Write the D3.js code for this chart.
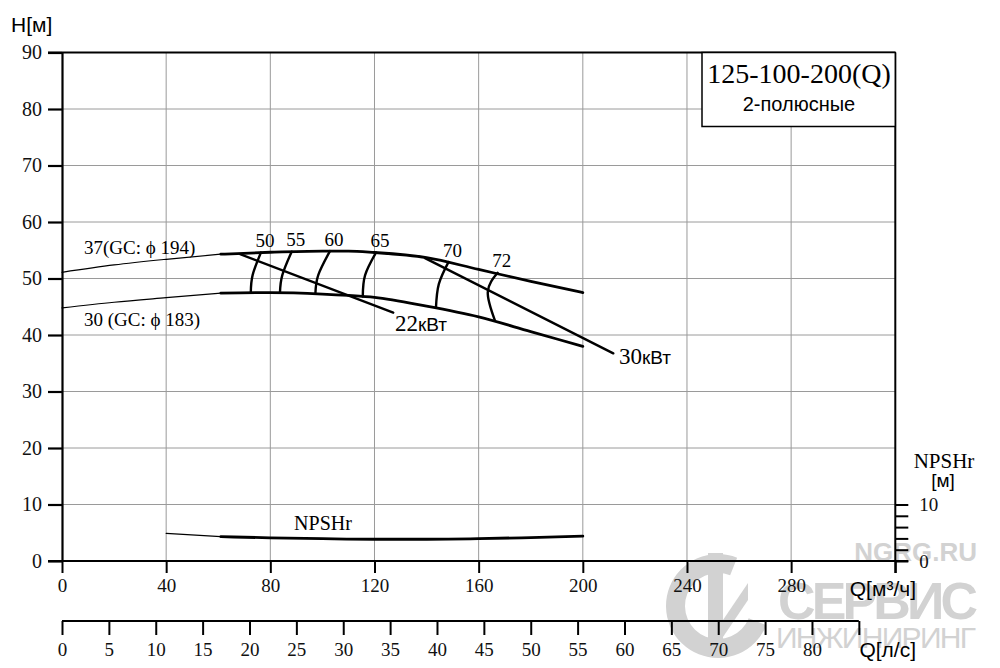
<!DOCTYPE html>
<html>
<head>
<meta charset="utf-8">
<script src="https://cdn.jsdelivr.net/npm/d3@7/dist/d3.min.js"></script>
<style>
  body { margin: 0; background: #fff; }
  .serif { font-family: "Liberation Serif", "Times New Roman", "DejaVu Serif", serif; }
  .sans { font-family: "Liberation Sans", Arial, sans-serif; }
</style>
</head>
<body>
<script>
// axis ticks
var qTicks = [0, 40, 80, 120, 160, 200, 240, 280];
var hTicks = [0, 10, 20, 30, 40, 50, 60, 70, 80, 90];
var lsTicks = [0, 5, 10, 15, 20, 25, 30, 35, 40, 45, 50, 55, 60, 65, 70, 75, 80];
var npshTicks = [0, 2, 4, 6, 8, 10];

// H-Q curves, low-flow part (thin) and working part (thick)
var qLow = [0, 20, 40, 61];
var h37Low = [51.1, 52.4, 53.4, 54.3];
var h30Low = [44.8, 45.8, 46.6, 47.4];
var qWork = [61, 80, 100, 110, 120, 140, 160, 180, 200];
var h37Work = [54.3, 54.65, 54.85, 54.85, 54.6, 53.7, 51.6, 49.5, 47.5];
var h30Work = [47.4, 47.5, 47.25, 47.0, 46.65, 45.1, 43.2, 40.6, 38.0];

// efficiency isolines (top, middle, bottom)
var effValues = [50, 55, 60, 65, 70, 72];
var effQ = [[76.4, 73.2, 72.5], [88.2, 84.6, 83.7], [102.9, 98.4, 97.3],
            [120.6, 116.4, 115.5], [148.4, 144.7, 143.6], [167.3, 163.5, 166.3]];
var effH = [[54.6, 50.6, 47.45], [54.75, 50.6, 47.5], [54.85, 50.6, 47.3],
            [54.6, 50.6, 46.8], [52.9, 49.0, 44.8], [51.0, 47.6, 42.5]];

// motor power lines
var powerNames = ["22", "30"];
var powerQ = [[68.4, 127.2], [139.4, 211.7]];
var powerH = [[54.3, 43.95], [53.6, 36.75]];

// NPSHr
var npshQ = [40, 61, 80, 100, 120, 140, 160, 180, 200];
var npshVals = [4.9, 4.3, 4.1, 3.95, 3.85, 3.85, 3.95, 4.15, 4.4];

var width = 1000, height = 668;

var x = d3.scaleLinear().domain([0, 320]).range([62, 895.3]);
var y = d3.scaleLinear().domain([0, 90]).range([561, 52.5]);
var yN = d3.scaleLinear().domain([0, 10]).range([561, 504.5]);
var xL = d3.scaleLinear().domain([0, 320 / 3.6]).range([62, 895.3]);

var svg = d3.select("body").append("svg")
    .attr("width", width)
    .attr("height", height);

// watermark
var wm = svg.append("g").attr("fill", "#d2d2d2").attr("stroke", "none");
var arc = d3.arc().innerRadius(33).outerRadius(52)
    .startAngle(Math.PI * 0.62).endAngle(Math.PI * 2.12);
wm.append("path").attr("d", arc).attr("transform", "translate(718,606)");
wm.append("rect").attr("x", 708).attr("y", 553).attr("width", 15).attr("height", 88);
wm.append("path").attr("d", "M723,620 L748,583 L748,600 L723,637 Z");
wm.append("text").attr("class", "sans").attr("x", 977).attr("y", 561)
    .attr("text-anchor", "end").attr("font-size", 26).attr("font-weight", "bold")
    .text("NGRG.RU");
wm.append("text").attr("class", "sans").attr("x", 978).attr("y", 619)
    .attr("text-anchor", "end").attr("font-size", 52).attr("font-weight", "bold")
    .attr("textLength", 200).text("СЕРВИС");
wm.append("text").attr("class", "sans").attr("x", 976).attr("y", 648)
    .attr("text-anchor", "end").attr("font-size", 30)
    .attr("textLength", 200).text("ИНЖИНИРИНГ");

// grid
svg.append("g")
  .selectAll("line").data(qTicks.filter(function(d){ return d > 0; }))
  .enter().append("line")
    .attr("x1", x).attr("x2", x)
    .attr("y1", y(90)).attr("y2", y(0))
    .attr("stroke", "#9a9a9a").attr("stroke-width", 1);
svg.append("g")
  .selectAll("line").data(hTicks.filter(function(d){ return d > 0 && d < 90; }))
  .enter().append("line")
    .attr("x1", x(0)).attr("x2", x(320))
    .attr("y1", y).attr("y2", y)
    .attr("stroke", "#9a9a9a").attr("stroke-width", 1);

// frame lines
svg.append("line").attr("x1", x(0) - 14).attr("x2", x(320))
    .attr("y1", y(90)).attr("y2", y(90)).attr("stroke", "#000").attr("stroke-width", 2);
svg.append("line").attr("x1", x(320)).attr("x2", x(320))
    .attr("y1", y(90)).attr("y2", y(0) + 12).attr("stroke", "#000").attr("stroke-width", 2);

// left axis
var gy = svg.append("g").attr("transform", "translate(" + x(0) + ",0)")
    .call(d3.axisLeft(y).tickValues(hTicks).tickSize(14).tickSizeOuter(0).tickPadding(6));
gy.select(".domain").attr("stroke-width", 2.2);
gy.selectAll(".tick line").attr("stroke-width", 2.2);
gy.selectAll("text").attr("class", "serif").attr("font-size", 20).attr("fill", "#111");

// bottom axis Q m3/h
var gx = svg.append("g").attr("transform", "translate(0," + y(0) + ")")
    .call(d3.axisBottom(x).tickValues(qTicks.concat([320])).tickSize(12).tickSizeOuter(0).tickPadding(6)
      .tickFormat(function(d){ return d === 320 ? "" : d; }));
gx.select(".domain").attr("d", "M" + (x(0) - 14) + ",0H" + (x(320) + 13)).attr("stroke-width", 2);
gx.selectAll(".tick line").attr("stroke-width", 2);
gx.selectAll("text").attr("class", "serif").attr("font-size", 19).attr("fill", "#111");

// bottom axis Q l/s
var gl = svg.append("g").attr("transform", "translate(0,621)")
    .call(d3.axisBottom(xL).tickValues(lsTicks.concat([85])).tickSize(14).tickSizeOuter(0).tickPadding(8)
      .tickFormat(function(d){ return d === 85 ? "" : d; }));
gl.select(".domain").attr("d", "M" + xL(0) + ",0H" + xL(85)).attr("stroke-width", 2);
gl.selectAll(".tick line").attr("stroke-width", 2);
gl.selectAll("text").attr("class", "serif").attr("font-size", 19).attr("fill", "#111");

// right NPSH axis
var gn = svg.append("g").attr("transform", "translate(" + x(320) + ",0)")
    .call(d3.axisRight(yN).tickValues(npshTicks).tickSize(13).tickSizeOuter(0).tickPadding(11)
      .tickFormat(function(d){ return (d === 0 || d === 10) ? d : ""; }));
gn.select(".domain").remove();
gn.selectAll(".tick line").attr("stroke-width", 2);
gn.selectAll("text").attr("class", "serif").attr("font-size", 19).attr("fill", "#111");

// axis titles
svg.append("text").attr("class", "sans").attr("x", 11).attr("y", 32)
    .attr("font-size", 21).text("H[м]");
svg.append("text").attr("class", "sans").attr("x", 916).attr("y", 596)
    .attr("text-anchor", "end").attr("font-size", 21).text("Q[м³/ч]");
svg.append("text").attr("class", "sans").attr("x", 916).attr("y", 657)
    .attr("text-anchor", "end").attr("font-size", 21).text("Q[л/с]");
svg.append("text").attr("class", "serif").attr("x", 944).attr("y", 468)
    .attr("text-anchor", "middle").attr("font-size", 21).text("NPSHr");
svg.append("text").attr("class", "sans").attr("x", 943).attr("y", 487)
    .attr("text-anchor", "middle").attr("font-size", 19).text("[м]");

// title box
svg.append("rect").attr("x", 702).attr("y", y(90)).attr("width", x(320) - 702).attr("height", 74)
    .attr("fill", "#fff").attr("stroke", "#000").attr("stroke-width", 1.5);
svg.append("text").attr("class", "serif").attr("x", 799).attr("y", 83)
    .attr("text-anchor", "middle").attr("font-size", 28).text("125-100-200(Q)");
svg.append("text").attr("class", "sans").attr("x", 799).attr("y", 111)
    .attr("text-anchor", "middle").attr("font-size", 20).text("2-полюсные");

// curves
var line = d3.line()
    .x(function(d){ return x(d[0]); })
    .y(function(d){ return y(d[1]); })
    .curve(d3.curveMonotoneX);
var lineN = d3.line()
    .x(function(d){ return x(d[0]); })
    .y(function(d){ return yN(d[1]); })
    .curve(d3.curveMonotoneX);
var lineV = d3.line()
    .x(function(d){ return x(d[0]); })
    .y(function(d){ return y(d[1]); })
    .curve(d3.curveNatural);

var curves = svg.append("g").attr("fill", "none").attr("stroke", "#000").attr("stroke-linecap", "round");

curves.append("path").datum(d3.zip(qLow, h37Low)).attr("d", line).attr("stroke-width", 1.2);
curves.append("path").datum(d3.zip(qLow, h30Low)).attr("d", line).attr("stroke-width", 1.2);
curves.append("path").datum(d3.zip(qWork, h37Work)).attr("d", line).attr("stroke-width", 2.8);
curves.append("path").datum(d3.zip(qWork, h30Work)).attr("d", line).attr("stroke-width", 2.8);

effValues.forEach(function(e, i){
  curves.append("path").datum(d3.zip(effQ[i], effH[i]))
      .attr("d", lineV).attr("stroke-width", 2.4);
  svg.append("text").attr("class", "serif")
      .attr("x", x(effQ[i][0]) + 4).attr("y", y(effH[i][0]) - 5.5)
      .attr("text-anchor", "middle").attr("font-size", 19).text(e);
});

powerNames.forEach(function(p, i){
  curves.append("path").datum(d3.zip(powerQ[i], powerH[i]))
      .attr("d", d3.line().x(function(d){ return x(d[0]); }).y(function(d){ return y(d[1]); }))
      .attr("stroke-width", 2.4);
});

var t22 = svg.append("text").attr("x", 395).attr("y", 331).attr("font-size", 23);
t22.append("tspan").attr("class", "serif").text(powerNames[0]);
t22.append("tspan").attr("class", "sans").attr("font-size", 19).text("кВт");
var t30 = svg.append("text").attr("x", 619).attr("y", 364).attr("font-size", 23);
t30.append("tspan").attr("class", "serif").text(powerNames[1]);
t30.append("tspan").attr("class", "sans").attr("font-size", 19).text("кВт");

svg.append("text").attr("class", "serif").attr("x", 84).attr("y", 254)
    .attr("font-size", 19).text("37(GC: ϕ 194)");
svg.append("text").attr("class", "serif").attr("x", 84).attr("y", 326)
    .attr("font-size", 19).text("30 (GC: ϕ 183)");

// NPSHr
var npshPts = d3.zip(npshQ, npshVals);
curves.append("path").datum(npshPts.slice(0, 2)).attr("d", lineN).attr("stroke-width", 1.2);
curves.append("path").datum(npshPts.slice(1)).attr("d", lineN).attr("stroke-width", 2.8);
svg.append("text").attr("class", "serif").attr("x", 323).attr("y", 530)
    .attr("text-anchor", "middle").attr("font-size", 20).text("NPSHr");
</script>
</body>
</html>
